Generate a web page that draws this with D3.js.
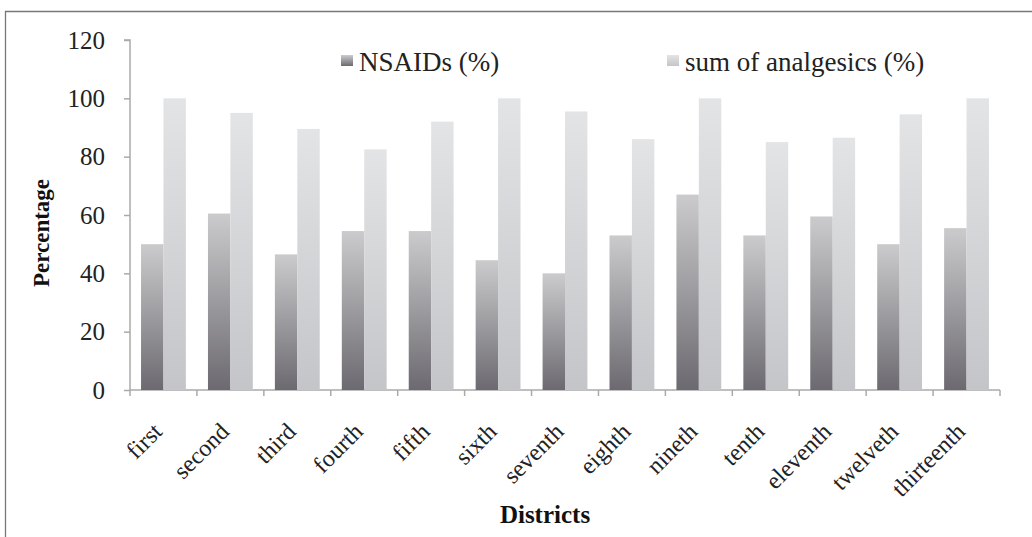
<!DOCTYPE html>
<html><head><meta charset="utf-8">
<script src="https://cdn.jsdelivr.net/npm/d3@7"></script>
<style>body{margin:0;background:#fff}svg{display:block}svg text{font-family:"Liberation Serif","DejaVu Serif",serif}</style>
</head><body>
<svg id="c" width="1032" height="537"></svg>
<script>
const categories = ["first","second","third","fourth","fifth","sixth","seventh","eighth","nineth","tenth","eleventh","twelveth","thirteenth"];
const nsaids = [50, 60.5, 46.5, 54.5, 54.5, 44.5, 40, 53, 67, 53, 59.5, 50, 55.5];
const sumAnalgesics = [100, 95, 89.5, 82.5, 92, 100, 95.5, 86, 100, 85, 86.5, 94.5, 100];
const seriesNames = ["NSAIDs (%)", "sum of analgesics (%)"];
const yTicks = [0, 20, 40, 60, 80, 100, 120];

(function(){
const svg = d3.select("#c");
const mLeft = 130, mRight = 1000, mTop = 40, mBottom = 390;

// frame
svg.append("path").attr("d", "M5.5,537 V11.5 H1032").attr("fill","none").attr("stroke","#777").attr("stroke-width",1.3);

const defs = svg.append("defs");
const g1 = defs.append("linearGradient").attr("id","gDark").attr("x1",0).attr("y1",1).attr("x2",0).attr("y2",0);
g1.append("stop").attr("offset","0%").attr("stop-color","#6c6a70");
g1.append("stop").attr("offset","100%").attr("stop-color","#cbcbcd");
const g2 = defs.append("linearGradient").attr("id","gLight").attr("x1",0).attr("y1",1).attr("x2",0).attr("y2",0);
g2.append("stop").attr("offset","0%").attr("stop-color","#c4c5c8");
g2.append("stop").attr("offset","100%").attr("stop-color","#e3e4e6");

const x = d3.scaleBand().domain(categories).range([mLeft, mRight]).paddingInner(0.33).paddingOuter(0.165);
const xs = d3.scaleBand().domain([0,1]).range([0, x.bandwidth()]);
const y = d3.scaleLinear().domain([0,120]).range([mBottom, mTop]);

// axes
const yAxis = svg.append("g").attr("transform",`translate(${mLeft},0)`)
  .call(d3.axisLeft(y).tickValues(yTicks).tickSize(6).tickFormat(d3.format("d")));
yAxis.attr("font-family", null);
yAxis.select(".domain").attr("stroke","#aaa").attr("stroke-width",1.5).attr("d",`M-6,${mTop}H0V${mBottom}`);
yAxis.selectAll(".tick line").attr("stroke","#aaa").attr("stroke-width",1.5);
yAxis.selectAll(".tick text").attr("x",-25).attr("font-size",25).attr("fill","#222");

const step = x.step();
const xTickPos = d3.range(categories.length+1).map(i => mLeft + i*step);
const xa = svg.append("g");
xa.append("line").attr("x1",mLeft).attr("x2",mRight).attr("y1",mBottom).attr("y2",mBottom).attr("stroke","#aaa").attr("stroke-width",1.5);
xa.selectAll("line.t").data(xTickPos).enter().append("line").attr("class","t")
  .attr("x1",d=>d).attr("x2",d=>d).attr("y1",mBottom).attr("y2",mBottom+6).attr("stroke","#aaa").attr("stroke-width",1.5);

// bars
const groups = svg.append("g").selectAll("g").data(categories).enter().append("g")
  .attr("transform", d => `translate(${x(d)},0)`);
groups.append("rect").attr("x", xs(0)).attr("width", xs.bandwidth())
  .attr("y", (d,i) => y(nsaids[i])).attr("height", (d,i) => mBottom - y(nsaids[i])).attr("fill","url(#gDark)");
groups.append("rect").attr("x", xs(1)).attr("width", xs.bandwidth())
  .attr("y", (d,i) => y(sumAnalgesics[i])).attr("height", (d,i) => mBottom - y(sumAnalgesics[i])).attr("fill","url(#gLight)");

// x labels
svg.append("g").selectAll("text").data(categories).enter().append("text")
  .attr("transform", d => `translate(${x(d)+x.bandwidth()/2},${mBottom+43}) rotate(-45)`)
  .attr("text-anchor","end")
  .attr("font-size",24).attr("fill","#222").text(d=>d);

// axis titles
svg.append("text").attr("transform","translate(49,233) rotate(-90)").attr("text-anchor","middle")
  .attr("font-weight","bold").attr("font-size",23).attr("fill","#111").text("Percentage");
svg.append("text").attr("x",545).attr("y",523).attr("text-anchor","middle")
  .attr("font-weight","bold").attr("font-size",25).attr("fill","#111").text("Districts");

// legend
const legX = [341, 667];
const leg = svg.append("g").selectAll("g").data(seriesNames).enter().append("g")
  .attr("transform",(d,i)=>`translate(${legX[i]},0)`);
leg.append("rect").attr("x",0).attr("y",55).attr("width",12).attr("height",11)
  .attr("fill",(d,i)=> i===0 ? "url(#gDark)" : "url(#gLight)");
leg.append("text").attr("x",18).attr("y",71).attr("font-size",27).attr("fill","#222").text(d=>d);
})();
</script>
</body></html>
